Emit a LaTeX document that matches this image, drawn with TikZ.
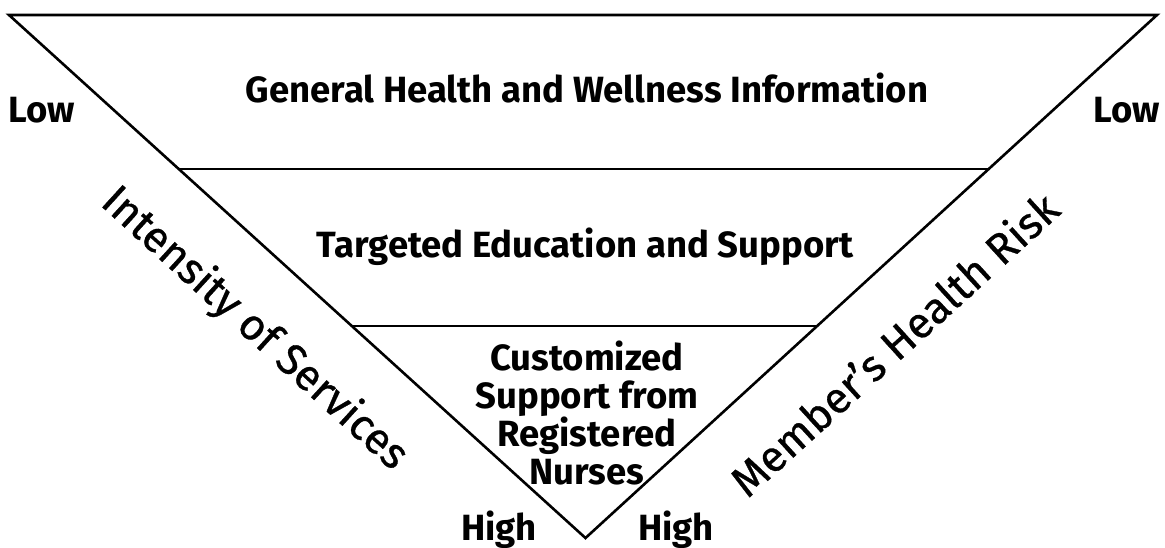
\documentclass[tikz,border=0pt]{standalone}
\usepackage{fontspec}
\setmainfont{Fira Sans}
\newfontfamily\sidefont{Fira Sans}[FakeBold=0.7]
\usetikzlibrary{calc}
\tikzstyle{band} = [line width=2.6pt, line join=miter]
\tikzstyle{tier} = [font=\fontsize{36.5}{37.5}\selectfont\bfseries, align=center, inner sep=0pt]
\tikzstyle{axistitle} = [font=\fontsize{43.5}{52}\selectfont\sidefont, inner sep=0pt, anchor=base]

\begin{document}
\begin{tikzpicture}[x=1pt,y=-1pt]
	\useasboundingbox (0,0) rectangle (1165,548);
	% the funnel
	\coordinate (tl) at (9,15);
	\coordinate (tr) at (1157,15);
	\coordinate (apex) at (585.5,538);
	\draw[band] (tl) -- (tr) -- (apex) -- cycle;
	\draw[band] ($(tl)!0.2945!(apex)$) -- ($(tr)!0.2945!(apex)$);
	\draw[band] ($(tl)!0.5947!(apex)$) -- ($(tr)!0.5947!(apex)$);
	% tiers
	\node[tier, anchor=base] (general) at (587,103) {General Health and Wellness Information};
	\node[tier, anchor=base] (targeted) at (585,258) {Targeted Education and Support};
	\node[tier] (custom) at (587,413) {Customized\\Support from\\Registered\\Nurses};
	% ends of the sides
	\node[tier, anchor=base west] (lowL) at (8,123) {Low};
	\node[tier, anchor=base east] (lowR) at (1160,123) {Low};
	\node[tier, anchor=base east] (highL) at (537,540.5) {High};
	\node[tier, anchor=base west] (highR) at (638,540.5) {High};
	% side titles
	\node[axistitle, rotate=-42.3] (intensity) at (246,338) {Intensity of Services};
	\node[axistitle, rotate=42.3] (risk) at (905,356) {Member’s Health Risk};
\end{tikzpicture}
\end{document}
